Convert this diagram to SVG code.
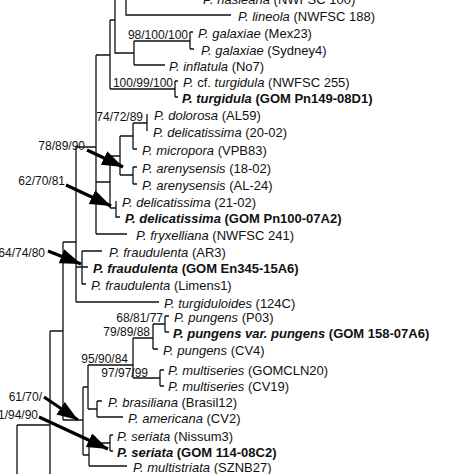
<svg xmlns="http://www.w3.org/2000/svg" width="474" height="474" viewBox="0 0 474 474">
<style>
.t{font-family:"Liberation Sans",Arial,sans-serif;font-size:13px;fill:#111}
.b{font-weight:bold}
.i{font-style:italic}
.bs{font-family:"Liberation Sans",Arial,sans-serif;font-size:12px;fill:#111;text-anchor:end}
.tree{fill:none;stroke:#111;stroke-width:1.3}
.arr{stroke:#000;stroke-width:3.2;fill:none}
</style>
<defs>
<marker id="ah" markerUnits="userSpaceOnUse" markerWidth="22" markerHeight="15" refX="21" refY="7.5" orient="auto">
<path d="M0,0 L21,7.5 L0,15 z" fill="#000"/>
</marker>
</defs>
<rect width="474" height="474" fill="#fff"/>
<g id="connectors">
<path class="tree" d="M126,-5V15H231 M115,-5V53H134 M134,41V65 M134,41H190 M134,65H165 M190,32V49 M190,32H193 M190,49H194 M110,20V89 M110,20H115 M110,89H175 M175,81V97 M175,81H178 M175,97H178 M96,55V234 M96,55H110 M96,234H127 M96,182H110 M110,156V208 M110,156H120 M110,208H116 M120,136V175 M120,136H133 M120,175H133 M133,123V149 M133,123H147 M133,149H137 M147,114V131 M133,167V184 M133,167H137 M133,184H137 M116,201V217H120 M76,147V302 M76,147H96 M76,302H159 M76,267H88 M82,251V284 M82,251H102 M82,284H86 M63,242V420 M63,242H76 M63,420H83 M50,331V480 M50,331H63 M17,425H50 M17,425V480 M83,387V455 M83,387H88 M83,455H89 M88,365V409 M88,365H133 M88,409H97 M133,338V378 M133,338H153 M133,378H160 M153,324V349 M153,324H165 M153,349H158 M165,316V332 M165,316H169 M165,332H169 M160,370V386 M160,370H164 M160,386H164 M97,401V417 M97,401H102 M97,417H123 M89,443V466 M89,443H110 M89,466H127 M110,435V451 M110,435H113 M110,451H113"/>
<g id="arrows">
<line class="arr" x1="87" y1="150" x2="123" y2="167" marker-end="url(#ah)"/>
<line class="arr" x1="66" y1="185" x2="111" y2="206" marker-end="url(#ah)"/>
<line class="arr" x1="48" y1="251" x2="81" y2="264" marker-end="url(#ah)"/>
<line class="arr" x1="44" y1="397" x2="78" y2="420" marker-end="url(#ah)"/>
<line class="arr" x1="39" y1="417" x2="108" y2="449" marker-end="url(#ah)"/>
</g>
</g>
<g id="support">
<text class="bs" x="188" y="39">98/100/100</text>
<text class="bs" x="173" y="87">100/99/100</text>
<text class="bs" x="143" y="121">74/72/89</text>
<text class="bs" x="163" y="322">68/81/77</text>
<text class="bs" x="150" y="336">79/89/88</text>
<text class="bs" x="128" y="363">95/90/84</text>
<text class="bs" x="148" y="377">97/97/99</text>
<text class="bs" x="85" y="150">78/89/90</text>
<text class="bs" x="65" y="185">62/70/81</text>
<text class="bs" x="45" y="257">64/74/80</text>
<text class="bs" x="42" y="401">61/70/</text>
<text class="bs" x="38" y="419">1/94/90</text>
</g>
<g id="n-nasleana"><text class="t" x="203" y="4"><tspan class="i">P. nasleana</tspan> (NWFSC 100)</text></g>
<g id="n-lineola"><text class="t" x="238" y="21"><tspan class="i">P. lineola</tspan> (NWFSC 188)</text></g>
<g id="n-galaxiae1"><text class="t" x="198" y="38"><tspan class="i">P. galaxiae</tspan> (Mex23)</text></g>
<g id="n-galaxiae2"><text class="t" x="201" y="55"><tspan class="i">P. galaxiae</tspan> (Sydney4)</text></g>
<g id="n-inflatula"><text class="t" x="169" y="71"><tspan class="i">P. inflatula</tspan> (No7)</text></g>
<g id="n-cfturgidula"><text class="t" x="183" y="87"><tspan class="i">P.</tspan> cf. <tspan class="i">turgidula</tspan> (NWFSC 255)</text></g>
<g id="n-turgidula"><text class="t b" x="182" y="103"><tspan class="i">P. turgidula</tspan> (GOM Pn149-08D1)</text></g>
<g id="n-dolorosa"><text class="t" x="154" y="120"><tspan class="i">P. dolorosa</tspan> (AL59)</text></g>
<g id="n-delic1"><text class="t" x="153" y="137"><tspan class="i">P. delicatissima</tspan> (20-02)</text></g>
<g id="n-micropora"><text class="t" x="142" y="155"><tspan class="i">P. micropora</tspan> (VPB83)</text></g>
<g id="n-aren1"><text class="t" x="142" y="173"><tspan class="i">P. arenysensis</tspan> (18-02)</text></g>
<g id="n-aren2"><text class="t" x="142" y="190"><tspan class="i">P. arenysensis</tspan> (AL-24)</text></g>
<g id="n-delic2"><text class="t" x="122" y="207"><tspan class="i">P. delicatissima</tspan> (21-02)</text></g>
<g id="n-delic3"><text class="t b" x="125" y="223"><tspan class="i">P. delicatissima</tspan> (GOM Pn100-07A2)</text></g>
<g id="n-fryx"><text class="t" x="136" y="240"><tspan class="i">P. fryxelliana</tspan> (NWFSC 241)</text></g>
<g id="n-fraud1"><text class="t" x="109" y="257"><tspan class="i">P. fraudulenta</tspan> (AR3)</text></g>
<g id="n-fraud2"><text class="t b" x="93" y="273"><tspan class="i">P. fraudulenta</tspan> (GOM En345-15A6)</text></g>
<g id="n-fraud3"><text class="t" x="91" y="290"><tspan class="i">P. fraudulenta</tspan> (Limens1)</text></g>
<g id="n-turgiduloides"><text class="t" x="164" y="308"><tspan class="i">P. turgiduloides</tspan> (124C)</text></g>
<g id="n-pungens1"><text class="t" x="174" y="322"><tspan class="i">P. pungens</tspan> (P03)</text></g>
<g id="n-pungens2"><text class="t b" x="173" y="338"><tspan class="i">P. pungens var. pungens</tspan> (GOM 158-07A6)</text></g>
<g id="n-pungens3"><text class="t" x="163" y="355"><tspan class="i">P. pungens</tspan> (CV4)</text></g>
<g id="n-multi1"><text class="t" x="168" y="375"><tspan class="i">P. multiseries</tspan> (GOMCLN20)</text></g>
<g id="n-multi2"><text class="t" x="168" y="391"><tspan class="i">P. multiseries</tspan> (CV19)</text></g>
<g id="n-brasiliana"><text class="t" x="108" y="407"><tspan class="i">P. brasiliana</tspan> (Brasil12)</text></g>
<g id="n-americana"><text class="t" x="128" y="423"><tspan class="i">P. americana</tspan> (CV2)</text></g>
<g id="n-seriata1"><text class="t" x="117" y="441"><tspan class="i">P. seriata</tspan> (Nissum3)</text></g>
<g id="n-seriata2"><text class="t b" x="117" y="457"><tspan class="i">P. seriata</tspan> (GOM 114-08C2)</text></g>
<g id="n-multistriata"><text class="t" x="133" y="472"><tspan class="i">P. multistriata</tspan> (SZNB27)</text></g>
</svg>
